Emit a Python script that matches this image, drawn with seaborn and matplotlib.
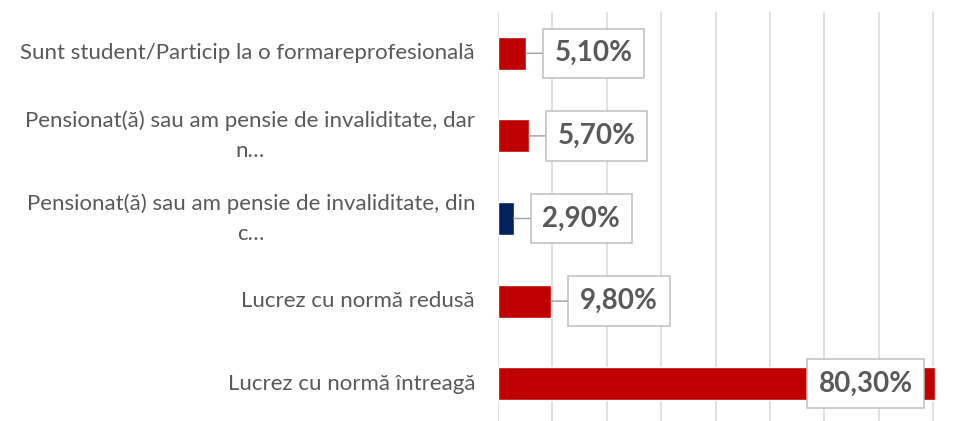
import matplotlib
matplotlib.use("Agg")
import matplotlib.pyplot as plt
import seaborn as sns

categories = [
    "Sunt student/Particip la o formareprofesională",
    "Pensionat(ă) sau am pensie de invaliditate, dar\nn…",
    "Pensionat(ă) sau am pensie de invaliditate, din\nc…",
    "Lucrez cu normă redusă",
    "Lucrez cu normă întreagă",
]
values = [0.051, 0.057, 0.029, 0.098, 0.803]
bar_colors = ["#C00000", "#C00000", "#002060", "#C00000", "#C00000"]

TEXT_GRAY = "#595959"
GRID_GRAY = "#D9D9D9"
BOX_GRAY = "#BFBFBF"

sns.set_style("white")
plt.rcParams["font.family"] = ["Lato", "DejaVu Sans"]

fig = plt.figure(figsize=(9.69, 4.21), dpi=100)
ax = fig.add_axes([0.5139, -0.0095, 0.4772, 0.981])

sns.barplot(x=values, y=categories, hue=categories, palette=bar_colors,
            legend=False, orient="h", width=0.4, saturation=1, ax=ax)

xmax = 0.85
ax.set_xlim(0, xmax)
ax.set_xticks([i / 10 for i in range(9)])
ax.grid(axis="x", color=GRID_GRAY, linewidth=1.1)
ax.set_axisbelow(True)
sns.despine(ax=ax, left=True, bottom=True)
ax.set_xlabel("")
ax.set_ylabel("")
ax.tick_params(axis="x", length=0, labelbottom=False)
ax.tick_params(axis="y", length=0, pad=16.5, labelsize=16.0, labelcolor=TEXT_GRAY)
for lbl in ax.get_yticklabels():
    lbl.set_multialignment("center")
    lbl.set_linespacing(1.6)
    lbl.set_verticalalignment("center")

label_fs = 20
box = dict(boxstyle="square,pad=0.42", fc="white", ec=BOX_GRAY, lw=1.1)
for i, v in enumerate(values):
    txt = f"{v * 100:.2f}%".replace(".", ",")
    if v > 0.6:
        # too long to fit outside: tuck the label in at the bar end
        ax.annotate(txt, xy=(v, i), xytext=(-16, 0), textcoords="offset points",
                    ha="right", va="center", fontsize=label_fs, fontweight="bold",
                    color=TEXT_GRAY, bbox=box)
    else:
        ax.annotate(txt, xy=(v, i), xytext=(20.7, 0), textcoords="offset points",
                    ha="left", va="center", fontsize=label_fs, fontweight="bold",
                    color=TEXT_GRAY, bbox=box,
                    arrowprops=dict(arrowstyle="-", color="#A6A6A6", lw=1.1,
                                    shrinkA=0, shrinkB=0))

fig.savefig("out.png", dpi=100)
